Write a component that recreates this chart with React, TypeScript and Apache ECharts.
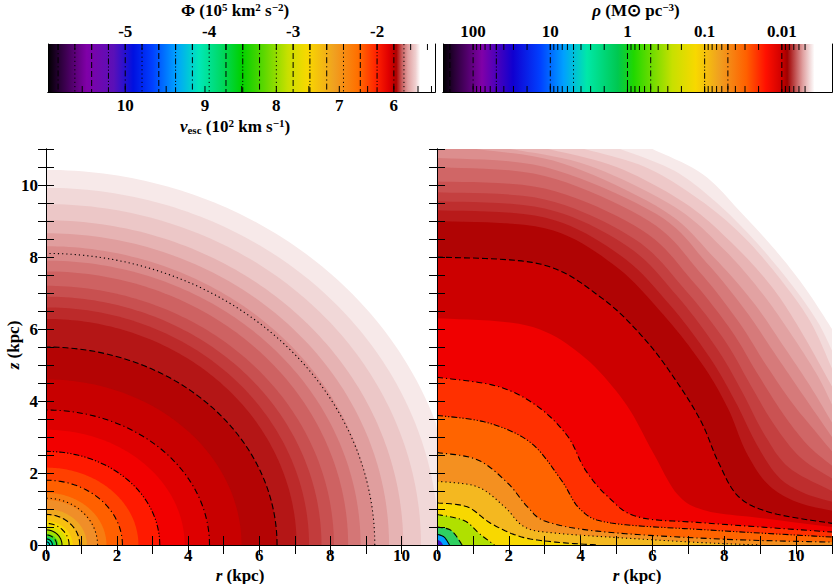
import React, { useEffect, useRef } from "react";
import * as echarts from "echarts";

// ---------- data ----------
const phiTicks = [-5, -4, -3, -2];
const phiMinorTicks = [-5.8, -5.6, -5.4, -5.2, -4.8, -4.6, -4.4, -4.2, -3.8, -3.6, -3.4, -3.2, -2.8, -2.6, -2.4, -2.2, -1.8, -1.6, -1.4];
const vescTicks = [10, 9, 8, 7, 6];
const vescMinorTicks = [10.5, 9.5, 8.5, 7.5, 6.5, 5.5, 5.2];
const phiContours = [-5.8, -5.6, -5.4, -5.2, -5.0, -4.8, -4.6, -4.4, -4.2, -4.0, -3.8, -3.6, -3.4, -3.2, -3.0, -2.8, -2.6, -2.4, -2.2, -2.0, -1.8, -1.68];
const rhoTicks = [100, 10, 1, 0.1, 0.01];
const rhoMinorTicks = [90, 80, 70, 60, 50, 40, 30, 20, 9, 8, 7, 6, 5, 4, 3, 2, 0.9, 0.8, 0.7, 0.6, 0.5, 0.4, 0.3, 0.2, 0.09, 0.08, 0.07, 0.06, 0.05, 0.04, 0.03, 0.02, 0.009, 0.008, 0.007, 0.006, 0.005];
const rhoContours = [200, 100, 50, 10, 5, 1, 0.5, 0.1, 0.05, 0.01];
const axisTicks = [0, 2, 4, 6, 8, 10];

const phiBarStops: [number, string][] = [
  [0, "#000000"], [0.03, "#2a0038"], [0.1, "#8000a8"], [0.17, "#5a10b8"], [0.22, "#0010e0"], [0.27, "#0040ff"],
  [0.33, "#00a0ff"], [0.39, "#00e8b8"], [0.45, "#00d860"], [0.5, "#00d000"], [0.56, "#60d800"], [0.62, "#c8e000"],
  [0.67, "#f8d800"], [0.74, "#f0a020"], [0.8, "#ff7000"], [0.85, "#ff2000"], [0.88, "#e00000"], [0.9, "#b00000"],
  [0.915, "#c86060"], [0.93, "#e0a0a0"], [0.95, "#f0d0d0"], [0.962, "#ffffff"], [1, "#ffffff"],
];
const rhoBarStops: [number, string][] = [
  [0, "#000000"], [0.03, "#2a0038"], [0.1, "#8000a8"], [0.18, "#1000d0"], [0.25, "#0040ff"], [0.31, "#00a0ff"],
  [0.37, "#00e8a8"], [0.45, "#00c850"], [0.49, "#20d800"], [0.59, "#c8e000"], [0.65, "#f8d800"], [0.71, "#f0a020"],
  [0.78, "#ff6000"], [0.83, "#ff1000"], [0.87, "#d00000"], [0.885, "#a00000"], [0.905, "#c05050"], [0.925, "#e0a0a0"],
  [0.945, "#f4e0e0"], [0.955, "#ffffff"], [1, "#ffffff"],
];

// left panel: potential bands as ellipses [a (r-intercept), b (z-intercept)]
const leftBands: [number, number][] = [
  [11.6, 10.42], [11.05, 9.92], [10.55, 9.47], [10.05, 9.02], [9.65, 8.66], [9.25, 8.3], [8.85, 7.9], [8.5, 7.6], [8.1, 7.2],
  [7.75, 6.9], [7.4, 6.6], [7.05, 6.28], [6.5, 5.5], [5.5, 4.6], [4.6, 3.75], [3.9, 3.2], [3.2, 2.6], [2.6, 2.15], [2.15, 1.8],
  [1.7, 1.45], [1.45, 1.25], [1.15, 1.0], [0.95, 0.82], [0.75, 0.66], [0.6, 0.53], [0.45, 0.4], [0.35, 0.31], [0.25, 0.22], [0.15, 0.13],
];
const leftBandColors = [
  "#f7e9e9", "#f1d8d8", "#ecc7c7", "#e6b3b3", "#e09e9e", "#da8a8a", "#d47676", "#ce6262", "#c85050",
  "#c23c3c", "#bc2a2a", "#b41616", "#b40404", "#c80000", "#de0000", "#f20000", "#ff1a00", "#ff4000", "#ff6000",
  "#f87c10", "#f08e28", "#f0a820", "#f8c010", "#f8d800", "#d8e000", "#a0e000", "#40d820", "#00d870", "#00d0c0",
];
const leftContours: [number, number][] = [
  [9.25, 8.1], [6.5, 5.5], [4.6, 3.75], [3.2, 2.6], [2.15, 1.8], [1.45, 1.3], [0.95, 0.85], [0.65, 0.6], [0.45, 0.42], [0.3, 0.28], [0.18, 0.17], [0.1, 0.09],
];
const leftContourStyles = ["dotted", "dashed", "dashdot", "dashdotdot", "dashdot", "dotted", "dashed", "dashdot", "solid", "dashed", "solid", "solid"];

// right panel: density region boundaries (r, z), outermost first
const rightFills: [number, number][][] = [
  [[6.0, 11], [7.4, 10.3], [8.5, 9.2], [9.5, 8.1], [10.28, 7.1], [11, 6.0]],
  [[5.1, 11], [6.6, 10.4], [7.8, 9.5], [8.9, 8.4], [9.9, 7.2], [10.6, 6.2], [11, 5.4]],
  [[4.1, 11], [5.8, 10.5], [7.3, 9.6], [8.5, 8.6], [9.55, 7.4], [10.4, 6.2], [11, 4.9]],
  [[3.1, 11], [5.0, 10.5], [6.9, 9.5], [8.2, 8.4], [9.3, 7.2], [10.1, 6.0], [11, 4.4]],
  [[2.05, 11], [4.2, 10.55], [6.6, 9.4], [8.0, 8.2], [9.05, 7.0], [9.9, 5.8], [10.6, 4.7], [11, 3.9]],
  [[1.1, 11], [3.5, 10.6], [6.3, 9.3], [7.7, 8.0], [8.8, 6.75], [9.6, 5.6], [10.4, 4.4], [11, 3.4]],
  [[0, 10.75], [3, 10.5], [6.1, 9.2], [7.5, 7.85], [8.6, 6.5], [9.35, 5.4], [10.1, 4.3], [11, 3.0]],
  [[0, 10.5], [3, 10.25], [5.9, 9.0], [7.3, 7.6], [8.4, 6.2], [9.1, 5.1], [9.85, 4.0], [10.5, 3.2], [11, 2.6]],
  [[0, 10.1], [3, 9.9], [5.7, 8.75], [7.1, 7.35], [8.2, 5.95], [8.9, 4.8], [9.6, 3.7], [10.3, 2.8], [11, 2.2]],
  [[0, 9.8], [3, 9.6], [5.5, 8.5], [6.9, 7.1], [8.0, 5.7], [8.7, 4.5], [9.35, 3.4], [10.1, 2.45], [11, 1.85]],
  [[0, 9.55], [3, 9.35], [5.3, 8.3], [6.7, 6.9], [7.8, 5.45], [8.5, 4.25], [9.1, 3.1], [9.8, 2.15], [11, 1.5]],
  [[0, 9.3], [3, 9.1], [5.1, 8.05], [6.5, 6.65], [7.6, 5.2], [8.3, 4.0], [8.9, 2.8], [9.5, 1.9], [10.2, 1.45], [11, 1.2]],
  [[0, 9.0], [3, 8.8], [4.9, 7.8], [6.3, 6.4], [7.4, 5.0], [8.1, 3.8], [8.6, 2.6], [9.2, 1.7], [10, 1.2], [11, 0.95]],
  [[0, 8.0], [2.9, 7.8], [4.6, 6.85], [5.8, 5.7], [6.7, 4.5], [7.37, 3.4], [7.84, 2.29], [8.4, 1.34], [9.33, 0.89], [11, 0.6]],
  [[0, 6.3], [2.5, 6.1], [4, 5.3], [5.2, 4.0], [6, 2.6], [6.7, 1.4], [7.5, 0.95], [9, 0.75], [11, 0.5]],
  [[0, 4.66], [1.68, 4.41], [2.8, 3.85], [3.64, 3.02], [4.12, 2.1], [4.76, 1.34], [5.6, 0.78], [7.5, 0.61], [11, 0.36]],
  [[0, 3.6], [1.4, 3.4], [2.6, 2.85], [3.45, 1.82], [4.0, 0.98], [4.85, 0.61], [7.5, 0.42], [11, 0.22]],
  [[0, 2.57], [1.12, 2.37], [1.96, 1.73], [2.52, 1.06], [3.08, 0.64], [4.7, 0.36], [8, 0.16], [11, 0.08]],
  [[0, 1.77], [1.12, 1.62], [1.88, 1.06], [2.44, 0.5], [3.3, 0.33], [5.6, 0.17], [7.5, 0.06], [9, 0]],
  [[0, 1.17], [0.84, 1.06], [1.5, 0.6], [2.33, 0.23], [3.3, 0.08], [4.5, 0]],
  [[0, 0.85], [0.75, 0.68], [1.2, 0.3], [1.6, 0]],
  [[0, 0.5], [0.4, 0.4], [0.7, 0]],
  [[0, 0.3], [0.2, 0.22], [0.35, 0]],
  [[0, 0.15], [0.1, 0.1], [0.17, 0]],
];
const rightFillColors = [
  "#f7eaea", "#f2dada", "#eec8c8", "#e8b4b4", "#e2a2a2", "#dc8e8e", "#d67a7a", "#d06666", "#ca5252", "#c44040",
  "#be2e2e", "#b81a1a", "#b00404", "#cc0000", "#f00000", "#ff3000", "#ff6400", "#f49020", "#f4b820", "#f8d800",
  "#b0e000", "#30d060", "#00a0ff", "#4010c0",
];
const rightContourIdx = [13, 15, 16, 17, 18, 19, 20, 21, 22];
const rightContourStyles = ["dashed", "dashdot", "dashdotdot", "dashdot", "dotted", "dashed", "dashdot", "dashed", "solid"];

// ---------- helpers ----------
const FONT = "Liberation Serif";
const dashes: Record<string, number[] | undefined> = {
  solid: undefined, dashed: [6, 3], dotted: [1.2, 3], dashdot: [6, 3, 1.2, 3], dashdotdot: [6, 2, 1.2, 2, 1.2, 2],
};
const phiStyles = ["dashdot", "dotted", "dashed", "dashdotdot"];
const rhoStyles = ["dashed", "dashdot", "dashdotdot", "dashdot", "dotted", "dashed", "dashdot", "dashdotdot", "dashdot", "dashed"];

function catmull(pts: number[][], seg = 10): number[][] {
  if (pts.length < 3) return pts;
  const out: number[][] = [];
  for (let i = 0; i < pts.length - 1; i++) {
    const p0 = pts[Math.max(0, i - 1)], p1 = pts[i], p2 = pts[i + 1], p3 = pts[Math.min(pts.length - 1, i + 2)];
    for (let k = 0; k < seg; k++) {
      const t = k / seg, t2 = t * t, t3 = t2 * t;
      const f = (a: number, b: number, c: number, d: number) =>
        0.5 * (2 * b + (-a + c) * t + (2 * a - 5 * b + 4 * c - d) * t2 + (-a + 3 * b - 3 * c + d) * t3);
      out.push([f(p0[0], p1[0], p2[0], p3[0]), f(p0[1], p1[1], p2[1], p3[1])]);
    }
  }
  out.push(pts[pts.length - 1]);
  return out;
}

const labelStyle = { color: "#000", fontFamily: FONT, fontWeight: "bold" as const, fontSize: 17 };
const rich = {
  a: { ...labelStyle, lineHeight: 18 },
  i: { ...labelStyle, fontStyle: "italic" as const, lineHeight: 18 },
  s: { ...labelStyle, fontSize: 11, verticalAlign: "top" as const, lineHeight: 18 },
  sb: { ...labelStyle, fontSize: 11, verticalAlign: "bottom" as const, lineHeight: 14 },
};
const richLow = {
  a: { ...labelStyle, lineHeight: 15 },
  i: { ...labelStyle, fontStyle: "italic" as const, lineHeight: 15 },
};

function panelAxes(grid: number, showY: boolean) {
  const line = { show: true, lineStyle: { color: "#000", width: 1 } };
  const tk = (len: number) => ({ inside: true, length: len, lineStyle: { color: "#000" } });
  const base = { gridIndex: grid, type: "value" as const, min: 0, max: 11, interval: 2, z: 10, splitLine: { show: false }, axisLine: line };
  const xs = [
    { ...base, position: "bottom", axisLabel: { ...labelStyle, margin: 2, customValues: axisTicks }, axisTick: tk(9), minorTick: { show: true, splitNumber: 2, length: 9, lineStyle: { color: "#000" } } },
    { ...base, position: "top", axisLabel: { show: false }, axisTick: tk(9), minorTick: { show: true, splitNumber: 2, length: 9, lineStyle: { color: "#000" } } },
  ];
  const ys = [
    { ...base, position: "left", axisLabel: showY ? { ...labelStyle, margin: 8, customValues: axisTicks } : { show: false }, axisTick: tk(8), minorTick: { show: true, splitNumber: 4, length: 8, lineStyle: { color: "#000" } } },
    { ...base, position: "right", axisLabel: { show: false }, axisTick: tk(8), minorTick: { show: true, splitNumber: 4, length: 8, lineStyle: { color: "#000" } } },
  ];
  return { xs, ys };
}

export default function App() {
  const ref = useRef<HTMLDivElement>(null);
  useEffect(() => {
    const chart = echarts.init(ref.current!, null, { renderer: "svg" });
    const XM = 11, YM = 11;
    const L = panelAxes(2, true), R = panelAxes(3, false);
    const PHI_MIN = -5.92, PHI_MAX = -1.31;
    const RHO_MAX = Math.pow(10, 2.39), RHO_MIN = Math.pow(10, -2.65);
    const vToPhi = (v: number) => -(v * v) / 20;
    const cbLine = { show: true, lineStyle: { color: "#000", width: 1 } };
    const noTick = { show: false };
    const gradient = (stops: [number, string][]) =>
      new echarts.graphic.LinearGradient(0, 0, 1, 0, stops.map(([o, c]) => ({ offset: o, color: c })));

    const tickSeries = (xi: number, vals: number[], top: boolean, bottom: boolean) => ({
      type: "custom", xAxisIndex: xi, yAxisIndex: xi === 0 ? 0 : 2, z: 5, data: vals.map((v) => [v]),
      renderItem: (p: any, api: any) => {
        const x = api.coord([api.value(0), 0])[0];
        const y0 = api.coord([0, 0])[1], y1 = api.coord([0, 1])[1];
        const ch: any[] = [];
        if (top) ch.push({ type: "line", shape: { x1: x, y1: y1, x2: x, y2: y1 + 6 }, style: { stroke: "#000", lineWidth: 1 } });
        if (bottom) ch.push({ type: "line", shape: { x1: x, y1: y0, x2: x, y2: y0 - 6 }, style: { stroke: "#000", lineWidth: 1 } });
        return { type: "group", children: ch };
      },
    });

    const option: any = {
      animation: false,
      backgroundColor: "#fff",
      grid: [
        { left: 48, top: 44, width: 387, height: 48 },
        { left: 443, top: 44, width: 389, height: 48 },
        { left: 46, top: 149, width: 391, height: 396 },
        { left: 437, top: 149, width: 395, height: 396 },
      ],
      xAxis: [
        { gridIndex: 0, type: "value", min: PHI_MIN, max: PHI_MAX, position: "top", z: 10, splitLine: { show: false }, axisLine: cbLine,
          axisLabel: { ...labelStyle, margin: 4, customValues: phiTicks, formatter: (v: number) => String(v) }, axisTick: noTick },
        { gridIndex: 0, type: "value", min: PHI_MIN, max: PHI_MAX, position: "bottom", z: 10, splitLine: { show: false }, axisLine: cbLine,
          axisLabel: { ...labelStyle, margin: 5, customValues: vescTicks.map(vToPhi), formatter: (v: number) => String(Math.round(Math.sqrt(-20 * v))) }, axisTick: noTick },
        { gridIndex: 1, type: "log", min: RHO_MIN, max: RHO_MAX, inverse: true, position: "top", z: 10, splitLine: { show: false }, axisLine: cbLine,
          axisLabel: { ...labelStyle, margin: 4, customValues: rhoTicks, formatter: (v: number) => String(v) }, axisTick: noTick },
        { gridIndex: 1, type: "log", min: RHO_MIN, max: RHO_MAX, inverse: true, position: "bottom", z: 10, splitLine: { show: false }, axisLine: cbLine,
          axisLabel: { show: false }, axisTick: noTick },
        ...L.xs, ...R.xs,
      ],
      yAxis: [
        { gridIndex: 0, type: "value", min: 0, max: 1, position: "left", z: 10, axisLine: cbLine, axisTick: noTick, axisLabel: { show: false }, splitLine: { show: false } },
        { gridIndex: 0, type: "value", min: 0, max: 1, position: "right", z: 10, axisLine: cbLine, axisTick: noTick, axisLabel: { show: false }, splitLine: { show: false } },
        { gridIndex: 1, type: "value", min: 0, max: 1, position: "left", z: 10, axisLine: cbLine, axisTick: noTick, axisLabel: { show: false }, splitLine: { show: false } },
        { gridIndex: 1, type: "value", min: 0, max: 1, position: "right", z: 10, axisLine: cbLine, axisTick: noTick, axisLabel: { show: false }, splitLine: { show: false } },
        ...L.ys, ...R.ys,
      ],
      series: [
        { type: "custom", xAxisIndex: 0, yAxisIndex: 0, data: [[PHI_MIN, PHI_MAX]],
          renderItem: (p: any, api: any) => {
            const a = api.coord([api.value(0), 1]), b = api.coord([api.value(1), 0]);
            return { type: "rect", shape: { x: a[0], y: a[1], width: b[0] - a[0], height: b[1] - a[1] }, style: { fill: gradient(phiBarStops) } };
          } },
        { type: "custom", xAxisIndex: 0, yAxisIndex: 0, data: phiContours.map((v) => [v]),
          renderItem: (p: any, api: any) => {
            const a = api.coord([api.value(0), 1]), b = api.coord([api.value(0), 0]);
            return { type: "line", shape: { x1: a[0], y1: a[1], x2: b[0], y2: b[1] }, style: { stroke: "#000", lineWidth: 1, lineDash: dashes[phiStyles[p.dataIndex % 4]] } };
          } },
        tickSeries(0, [...phiTicks, ...phiMinorTicks], true, false),
        tickSeries(0, [...vescTicks, ...vescMinorTicks].map(vToPhi), false, true),
        { type: "custom", xAxisIndex: 2, yAxisIndex: 2, data: [[RHO_MAX, RHO_MIN]],
          renderItem: (p: any, api: any) => {
            const a = api.coord([api.value(0), 1]), b = api.coord([api.value(1), 0]);
            return { type: "rect", shape: { x: a[0], y: a[1], width: b[0] - a[0], height: b[1] - a[1] }, style: { fill: gradient(rhoBarStops) } };
          } },
        { type: "custom", xAxisIndex: 2, yAxisIndex: 2, data: rhoContours.map((v) => [v]),
          renderItem: (p: any, api: any) => {
            const a = api.coord([api.value(0), 1]), b = api.coord([api.value(0), 0]);
            return { type: "line", shape: { x1: a[0], y1: a[1], x2: b[0], y2: b[1] }, style: { stroke: "#000", lineWidth: 1, lineDash: dashes[rhoStyles[p.dataIndex]] } };
          } },
        tickSeries(2, [...rhoTicks, ...rhoMinorTicks], true, true),
        { type: "custom", xAxisIndex: 4, yAxisIndex: 4, data: leftBands,
          renderItem: (p: any, api: any) => {
            const a = api.value(0), b = api.value(1);
            const pts = [api.coord([0, 0])];
            for (let k = 0; k <= 90; k++) {
              const t = (k / 90) * Math.PI / 2;
              pts.push(api.coord([Math.min(a * Math.cos(t), XM), Math.min(b * Math.sin(t), YM)]));
            }
            return { type: "polygon", shape: { points: pts }, style: { fill: leftBandColors[p.dataIndex] } };
          } },
        { type: "custom", xAxisIndex: 4, yAxisIndex: 4, data: leftContours,
          renderItem: (p: any, api: any) => {
            const a = api.value(0), b = api.value(1);
            const pts = [];
            for (let k = 0; k <= 90; k++) {
              const t = (k / 90) * Math.PI / 2;
              pts.push(api.coord([a * Math.cos(t), b * Math.sin(t)]));
            }
            return { type: "polyline", shape: { points: pts }, style: { stroke: "#000", fill: "none", lineWidth: 1.1, lineDash: dashes[leftContourStyles[p.dataIndex]] } };
          } },
        { type: "custom", xAxisIndex: 6, yAxisIndex: 6, data: rightFills.map((_, i) => [i, 0]),
          renderItem: (p: any, api: any) => {
            const c = rightFills[p.dataIndex];
            const curve = catmull(c.map((q) => api.coord(q)));
            const pts = [api.coord([0, 0])];
            if (c[0][0] > 0) pts.push(api.coord([0, YM]));
            pts.push(...curve);
            if (c[c.length - 1][0] < XM) pts.push(api.coord([XM, c[c.length - 1][1]]));
            pts.push(api.coord([XM, 0]));
            return { type: "polygon", shape: { points: pts }, style: { fill: rightFillColors[p.dataIndex] } };
          } },
        { type: "custom", xAxisIndex: 6, yAxisIndex: 6, data: rightContourIdx.map((v) => [v, 0]),
          renderItem: (p: any, api: any) => {
            const c = rightFills[rightContourIdx[p.dataIndex]];
            const curve = catmull(c.map((q) => api.coord(q)));
            return { type: "polyline", shape: { points: curve }, style: { stroke: "#000", fill: "none", lineWidth: 1.1, lineDash: dashes[rightContourStyles[p.dataIndex]] } };
          } },
      ],
      graphic: [
        { type: "text", x: 235, y: 1, style: { rich, align: "center", text: "{a|Φ (10}{s|5}{a| km}{s|2}{a| s}{s|−2}{a|)}" } },
        { type: "text", x: 235, y: 117, style: { rich, align: "center", text: "{i|v}{sb|esc}{a| (10}{s|2}{a| km s}{s|−1}{a|)}" } },
        { type: "text", x: 636, y: 1, style: { rich, align: "center", text: "{i|ρ}{a| (M⊙ pc}{s|−3}{a|)}" } },
        { type: "text", x: 240, y: 568, style: { rich: richLow, align: "center", text: "{i|r}{a| (kpc)}" } },
        { type: "text", x: 637, y: 568, style: { rich: richLow, align: "center", text: "{i|r}{a| (kpc)}" } },
        { type: "text", x: 4, y: 345, rotation: Math.PI / 2, style: { rich, align: "center", text: "{i|z}{a| (kpc)}" } },
      ],
    };
    chart.setOption(option);
    return () => chart.dispose();
  }, []);
  return <div ref={ref} style={{ position: "fixed", left: 0, top: 0, width: 834, height: 584 }} />;
}
